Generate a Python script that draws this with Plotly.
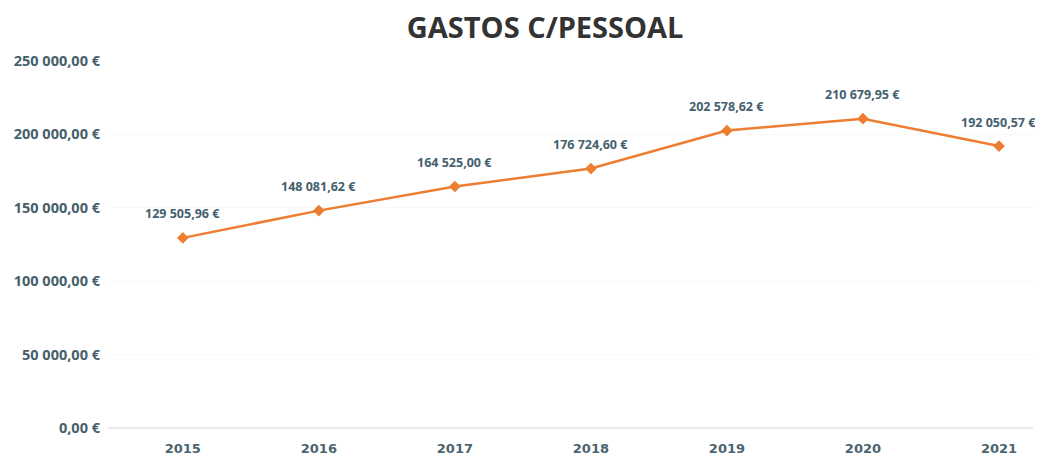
import plotly.graph_objects as go

years = [2015, 2016, 2017, 2018, 2019, 2020, 2021]
values = [129505.96, 148081.62, 164525.00, 176724.60, 202578.62, 210679.95, 192050.57]
value_labels = ["129 505,96 €", "148 081,62 €", "164 525,00 €", "176 724,60 €",
                "202 578,62 €", "210 679,95 €", "192 050,57 €"]
y_ticks = [0, 50000, 100000, 150000, 200000, 250000]
y_tick_labels = ["0,00 €", "50 000,00 €", "100 000,00 €", "150 000,00 €",
                 "200 000,00 €", "250 000,00 €"]
x_tick_labels = ["2015", "2016", "2017", "2018", "2019", "2020", "2021"]

fig = go.Figure()
fig.add_trace(go.Scatter(
    x=years, y=values,
    mode="lines+markers",
    line=dict(color="#ED7D31", width=2.5),
    marker=dict(symbol="diamond", size=9, color="#ED7D31"),
    cliponaxis=False,
    hoverinfo="skip",
))

for xv, yv, lab in zip(years, values, value_labels):
    fig.add_annotation(
        x=xv, y=yv, text=lab, showarrow=False, yshift=24,
        xanchor="center", yanchor="middle",
        font=dict(family="Open Sans", size=12.5, color="#44606E", weight="bold"),
    )

fig.update_layout(
    width=1035, height=449,
    paper_bgcolor="white", plot_bgcolor="white",
    margin=dict(l=100, r=10, t=53, b=29),
    showlegend=False,
    title=dict(text="GASTOS C/PESSOAL", x=0.519, xanchor="center", y=0.955, yanchor="middle",
               font=dict(family="Open Sans", size=29, color="#333333", weight="bold")),
    xaxis=dict(range=[2014.45, 2021.25], tickvals=years, ticktext=x_tick_labels,
               showgrid=False, zeroline=False, showline=False, ticks="",
               ticklabelstandoff=11, automargin=False,
               tickfont=dict(family="DejaVu Sans", size=13, color="#4A6470", weight="bold")),
    yaxis=dict(range=[0, 250000], tickvals=y_ticks, ticktext=y_tick_labels,
               showgrid=True, gridcolor="#F8F8F8", zeroline=True, zerolinecolor="#EBEBEB",
               zerolinewidth=2, showline=False, ticks="",
               ticklabelstandoff=7, automargin=False,
               tickfont=dict(family="Open Sans", size=14.5, color="#46606B", weight="bold")),
)

fig.write_html("out.html")
